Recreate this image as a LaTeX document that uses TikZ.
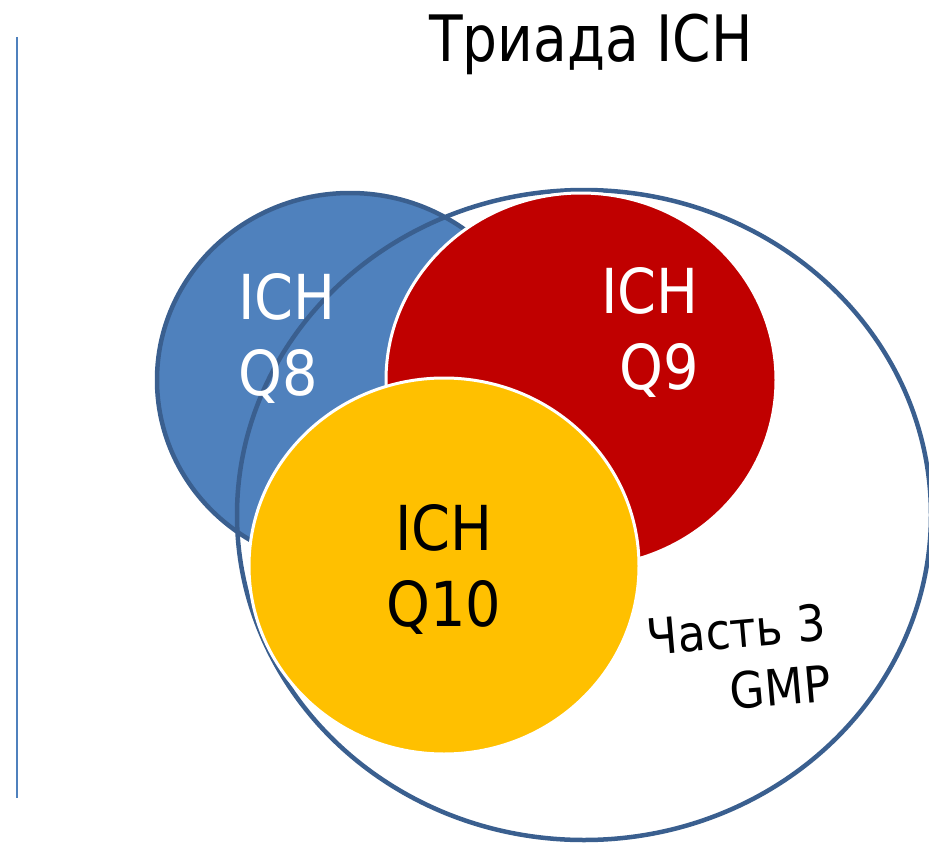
\documentclass[tikz,border=0pt]{standalone}
\usepackage{fontspec}
\setmainfont{DejaVu Sans}[FakeStretch=0.9]
\newfontfamily\headfont{DejaVu Sans}[FakeStretch=0.86]
\usepackage{tikz}
\usetikzlibrary{shapes.geometric,positioning}
\definecolor{qblue}{HTML}{4F81BD}
\definecolor{qedge}{HTML}{3A5F8F}
\definecolor{qred}{HTML}{C00000}
\definecolor{qyellow}{HTML}{FFC000}
\tikzset{
    disc/.style={
        ellipse,
        inner sep=0pt,
        outer sep=0pt
    },
    bluedisc/.style={
        disc,
        draw=qedge,
        line width=4.5pt,
        fill=qblue,
        minimum width=386pt,
        minimum height=374pt
    },
    reddisc/.style={
        disc,
        draw=white,
        line width=3pt,
        fill=qred,
        minimum width=390pt,
        minimum height=374pt
    },
    yellowdisc/.style={
        disc,
        draw=white,
        line width=3pt,
        fill=qyellow,
        minimum width=390pt,
        minimum height=376pt
    },
    gmpring/.style={
        disc,
        draw=qedge,
        line width=4.5pt,
        minimum width=694pt,
        minimum height=650pt
    },
    lbl/.style={
        inner sep=0pt,
        font=\fontsize{62}{76}\selectfont
    }
}

\begin{document}
\begin{tikzpicture}[x=1pt,y=-1pt]
    \useasboundingbox (0,0) rectangle (929,843);

    % margin rule
    \draw[qblue, line width=1.5pt] (17,37) -- (17,798);

    \node[anchor=base, inner sep=0pt, font=\headfont\fontsize{64}{76}\selectfont] (title) at (591,62) {Триада ICH};

    % the triad
    \node[bluedisc] (q8) at (350,380) {};
    \node[gmpring] (gmp) at (584,515) {};
    \node[reddisc] (q9) at (581,380) {};
    \node[yellowdisc] (q10) at (444,566) {};

    \node[lbl, text=white, align=left, anchor=west] (q8txt) at (238,338) {ICH\\Q8};
    \node[lbl, text=white, align=right, anchor=east] (q9txt) at (699,332) {ICH\\Q9};
    \node[lbl, align=center] (q10txt) at (444,569) {ICH\\Q10};
    \node[lbl, font=\fontsize{50}{61}\selectfont, align=right, rotate=5] (gmptxt) at (739,660) {Часть 3\\GMP};
\end{tikzpicture}
\end{document}
